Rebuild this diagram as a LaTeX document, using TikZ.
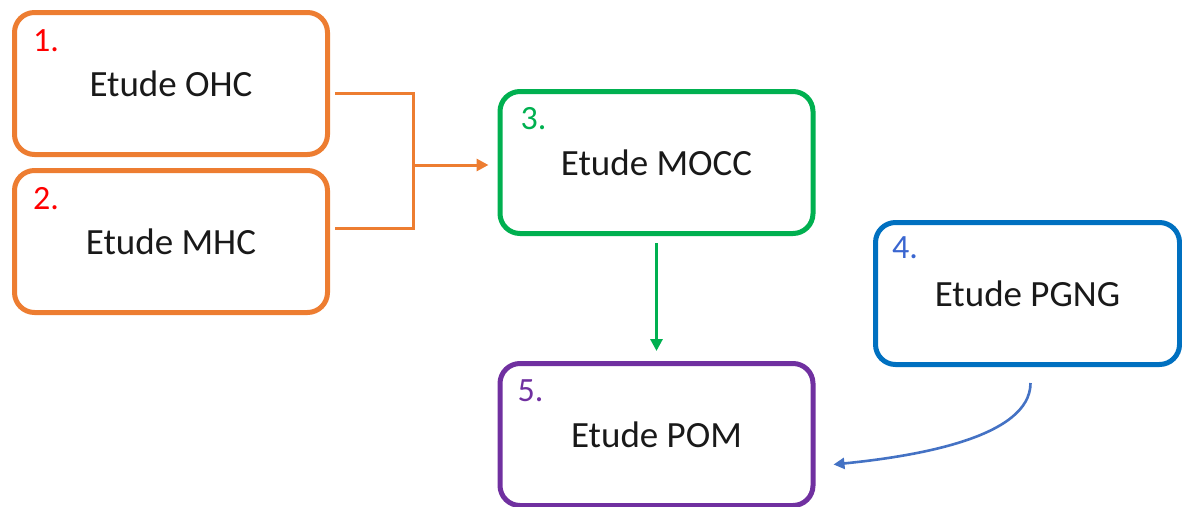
\documentclass[tikz,border=0pt]{standalone}
\usepackage{fontspec}
\setmainfont{Carlito}
\usetikzlibrary{arrows.meta}
\definecolor{ohcorange}{HTML}{ED7D31}
\definecolor{moccgreen}{HTML}{00B050}
\definecolor{pgngblue}{HTML}{0070C0}
\definecolor{pompurple}{HTML}{7030A0}
\definecolor{numred}{HTML}{FF0000}
\definecolor{numblue}{HTML}{3A66D0}
\definecolor{curveblue}{HTML}{4472C4}
\begin{document}
\begin{tikzpicture}[x=1pt,y=-1pt,
  etude/.style={draw,line width=5pt,rounded corners=20pt,minimum width=313pt,minimum height=142pt,inner sep=0pt,font=\fontsize{37}{44}\selectfont},
  num/.style={anchor=north west,inner sep=0pt,font=\fontsize{34}{40}\selectfont},
  link/.style={line width=3pt,-{Triangle[length=12pt,width=12pt]}}]

\useasboundingbox (0,0) rectangle (1182,506);

\node [etude,ohcorange] (ohc) at (171, 83.5) {\color{black!90}Etude OHC};
\node [etude,ohcorange] (mhc) at (171, 241.5) {\color{black!90}Etude MHC};
\node [etude,moccgreen] (mocc) at (656.5, 162.5) {\color{black!90}Etude MOCC};
\node [etude,pgngblue,minimum width=304pt] (pgng) at (1027.5, 293.5) {\color{black!90}Etude PGNG};
\node [etude,pompurple] (pom) at (656.5, 434.5) {\color{black!90}Etude POM};

\node [num,numred] (n1) at ([shift={(21,19)}]ohc.north west) {1.};
\node [num,numred] (n2) at ([shift={(21,19)}]mhc.north west) {2.};
\node [num,moccgreen] (n3) at ([shift={(23,18)}]mocc.north west) {3.};
\node [num,numblue] (n4) at ([shift={(19,16)}]pgng.north west) {4.};
\node [num,pompurple] (n5) at ([shift={(20,18)}]pom.north west) {5.};

% joining OHC and MHC towards MOCC
\coordinate (jn) at (413, 165);
\draw [ohcorange,line width=3pt] ([shift={(5,9.5)}]ohc.east) -| (jn) |- ([shift={(5,-13.5)}]mhc.east);
\draw [link,ohcorange,shorten >=9pt] (jn) -- (jn -| mocc.west);

\draw [link,moccgreen,shorten <=7pt,shorten >=10pt] (mocc.south) -- (pom.north);

\draw [curveblue,line width=2.6pt,-{Triangle[length=11pt,width=11pt]}] ([shift={(3,16)}]pgng.south) .. controls +(0,55) and +(80,-8) .. ([shift={(18,30)}]pom.east);

\end{tikzpicture}
\end{document}
